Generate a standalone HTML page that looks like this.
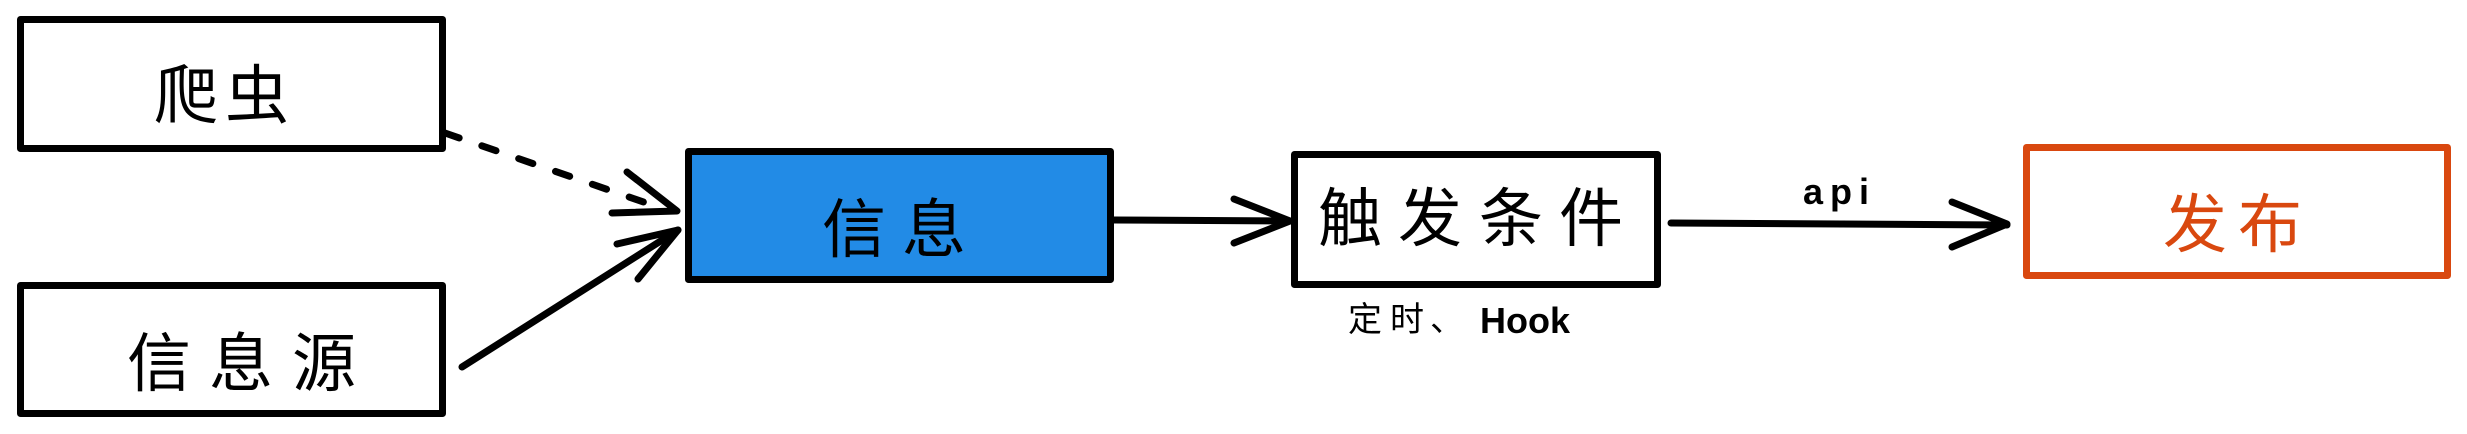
<!DOCTYPE html>
<html>
<head>
<meta charset="utf-8">
<style>
  html, body { margin:0; padding:0; background:#ffffff; }
  body { width:2467px; height:434px; overflow:hidden; }
  svg { display:block; }
  .cjk { font-family: "Liberation Sans", "Noto Sans CJK SC", "WenQuanYi Zen Hei", sans-serif; }
</style>
</head>
<body>
<svg width="2467" height="434" viewBox="0 0 2467 434" xmlns="http://www.w3.org/2000/svg">
  <rect x="0" y="0" width="2467" height="434" fill="#ffffff"/>

  <!-- Boxes -->
  <g stroke-linejoin="round" stroke-width="7">
    <rect x="20.5" y="19.5" width="422" height="129" fill="#ffffff" stroke="#000000"/>
    <rect x="20.5" y="285.5" width="422" height="128" fill="#ffffff" stroke="#000000"/>
    <rect x="688.5" y="151.5" width="422" height="128" fill="#228be6" stroke="#000000"/>
    <rect x="1294.5" y="154.5" width="363" height="130" fill="#ffffff" stroke="#000000"/>
    <rect x="2026.5" y="147.5" width="421" height="128" fill="#ffffff" stroke="#d9480f"/>
  </g>

  <!-- Arrows -->
  <g fill="none" stroke="#000000" stroke-width="7" stroke-linecap="round" stroke-linejoin="round">
    <!-- crawler -> info (dashed) -->
    <path d="M445,133 L652,205" stroke-dasharray="15 24"/>
    <polyline points="627,172 677,211 612,213"/>
    <!-- source -> info -->
    <path d="M462,367 L678,230"/>
    <polyline points="617,244 678,230 638,279"/>
    <!-- info -> trigger -->
    <path d="M1114,220 L1290,221"/>
    <polyline points="1234,199 1290,221 1234,243"/>
    <!-- trigger -> publish -->
    <path d="M1671,223 L2007,225"/>
    <polyline points="1952,202 2007,224 1952,247"/>
  </g>

  <!-- Box labels -->
  <g class="cjk" font-size="64" fill="#000000">
    <text x="154 225" y="118">爬虫</text>
    <text x="127 209 292" y="386">信息源</text>
    <text x="822 902" y="252">信息</text>
    <text x="1318 1398 1479 1559" y="241">触发条件</text>
    <text x="2163 2238" y="247" fill="#d9480f">发布</text>
  </g>

  <!-- Small labels -->
  <text class="cjk" x="1348 1390 1430" y="331" font-size="34" fill="#000000">定时、</text>
  <text x="1480" y="333" font-family="Liberation Sans, sans-serif" font-weight="bold" font-size="36" fill="#000000">Hook</text>
  <text x="1803" y="204" font-family="Liberation Sans, sans-serif" font-weight="bold" font-size="36" letter-spacing="7" fill="#000000">api</text>
</svg>
</body>
</html>
